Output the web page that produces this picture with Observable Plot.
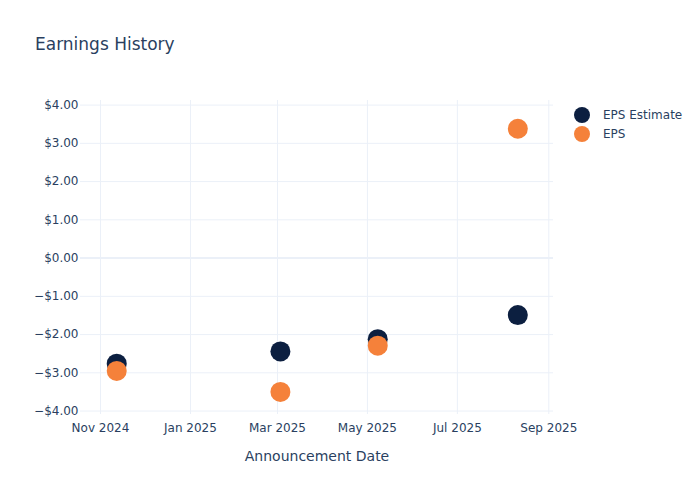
<!DOCTYPE html>
<html><head><meta charset="utf-8">
<script src="https://cdn.jsdelivr.net/npm/d3@7"></script>
<script src="https://cdn.jsdelivr.net/npm/@observablehq/plot@0.6"></script>
<style>
body{margin:0;background:#fff;font-family:"DejaVu Sans",sans-serif;color:#2a3f5f}
#wrap{position:relative;width:700px;height:500px}
#title{position:absolute;left:35px;top:34px;font-size:17px;white-space:nowrap}
#legend{position:absolute;left:574px;top:105px;font-size:12px}
#legend div{display:flex;align-items:center;height:19px}
#legend span.sw{display:inline-block;width:16px;height:16px;border-radius:50%;margin-right:13px}
</style>
</head><body>
<div id="wrap">
<div id="chart"></div>
<div id="title">Earnings History</div>
<div id="legend"></div>
</div>
<script>
const dates = ["2024-11-12","2025-03-03","2025-05-08","2025-08-11"];
const epsEstimate = [-2.76,-2.44,-2.12,-1.49];
const eps = [-2.95,-3.50,-2.29,3.38];
const seriesNames = ["EPS Estimate","EPS"];
const seriesColors = ["#0c1f40","#f5813a"];
const yTicks = [-4,-3,-2,-1,0,1,2,3,4];
const xTicks = ["2024-11-01","2025-01-01","2025-03-01","2025-05-01","2025-07-01","2025-09-01"];
const xLabel = "Announcement Date";

const estRows = dates.map((d,i)=>({date:new Date(d+"T00:00:00Z"), value:epsEstimate[i]}));
const epsRows = dates.map((d,i)=>({date:new Date(d+"T00:00:00Z"), value:eps[i]}));
const xTickDates = xTicks.map(d=>new Date(d+"T00:00:00Z"));
const fmtY = v => (v<0?"\u2212":"")+"$"+Math.abs(v).toFixed(2);

const chart = Plot.plot({
  width:700, height:500,
  marginLeft:80, marginRight:147, marginTop:100, marginBottom:86,
  style:{fontFamily:"DejaVu Sans, sans-serif", fontSize:"12px", color:"#2a3f5f", background:"transparent"},
  x:{type:"utc", domain:[new Date("2024-10-18T10:30:00Z"), new Date("2025-09-04T04:30:00Z")]},
  y:{domain:[-4.09,4.12]},
  marks:[
    Plot.gridX(xTickDates, {stroke:"#ebf0f8", strokeOpacity:1}),
    Plot.gridY(yTicks, {stroke:"#ebf0f8", strokeOpacity:1}),
    Plot.ruleY([0], {stroke:"#ebf0f8", strokeWidth:2}),
    Plot.axisY(yTicks, {tickSize:0, tickPadding:2, tickFormat:fmtY, label:null}),
    Plot.axisX(xTickDates, {tickSize:0, tickPadding:9, tickFormat:d3.utcFormat("%b %Y"), label:null}),
    Plot.axisX({ticks:[], label:xLabel, labelAnchor:"center", labelArrow:"none", labelOffset:46, fontSize:14}),
    Plot.dot(estRows, {x:"date", y:"value", r:10, fill:seriesColors[0]}),
    Plot.dot(epsRows, {x:"date", y:"value", r:10, fill:seriesColors[1]})
  ]
});
document.getElementById("chart").appendChild(chart);

const legend = document.getElementById("legend");
seriesNames.forEach((n,i)=>{
  const row = document.createElement("div");
  const sw = document.createElement("span"); sw.className="sw"; sw.style.background=seriesColors[i];
  row.appendChild(sw); row.appendChild(document.createTextNode(n));
  legend.appendChild(row);
});
</script>
</body></html>
